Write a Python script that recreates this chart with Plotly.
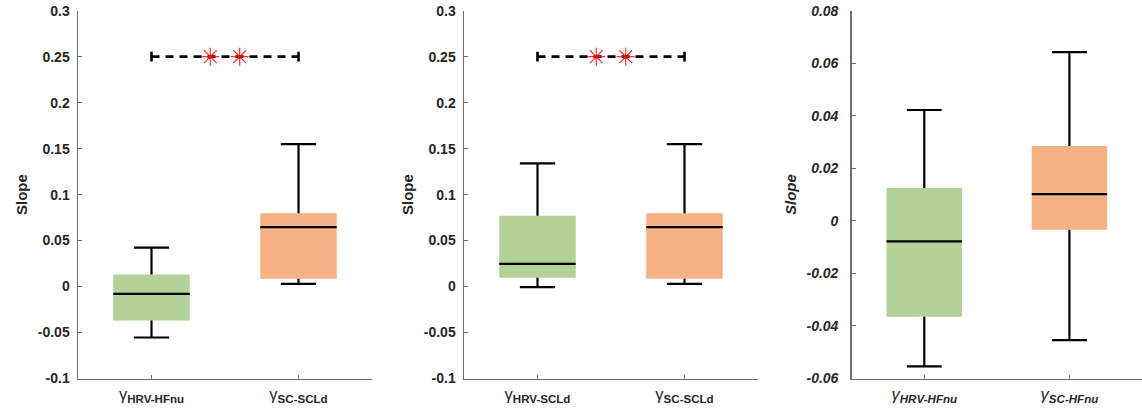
import plotly.graph_objects as go

# ---- data ----
p1_labels = ["γ<sub><b>HRV-HFnu</b></sub>", "γ<sub><b>SC-SCLd</b></sub>"]
p1_low = [-0.0554, 0.0029]
p1_q1 = [-0.037, 0.0084]
p1_med = [-0.008, 0.0646]
p1_q3 = [0.013, 0.0798]
p1_high = [0.0424, 0.1548]

p2_labels = ["γ<sub><b>HRV-SCLd</b></sub>", "γ<sub><b>SC-SCLd</b></sub>"]
p2_low = [-0.0007, 0.0029]
p2_q1 = [0.0095, 0.0084]
p2_med = [0.0247, 0.0646]
p2_q3 = [0.077, 0.0798]
p2_high = [0.134, 0.1548]

p3_labels = ["<i>γ</i><sub><b><i>HRV-HFnu</i></b></sub>", "<i>γ</i><sub><b><i>SC-HFnu</i></b></sub>"]
p3_low = [-0.0554, -0.0454]
p3_q1 = [-0.0365, -0.0034]
p3_med = [-0.0078, 0.0102]
p3_q3 = [0.0125, 0.0285]
p3_high = [0.0422, 0.0642]

sig_y = 0.25
sig_stars = [1.4, 1.6]

y12_ticks = [-0.1, -0.05, 0, 0.05, 0.1, 0.15, 0.2, 0.25, 0.3]
y12_text = ["-0.1", "-0.05", "0", "0.05", "0.1", "0.15", "0.2", "0.25", "0.3"]
y3_ticks = [-0.06, -0.04, -0.02, 0, 0.02, 0.04, 0.06, 0.08]
y3_text = ["-0.06", "-0.04", "-0.02", "0", "0.02", "0.04", "0.06", "0.08"]

colors = ["#B2D297", "#F5B183"]
cats = [1, 2]

BOX_HW = 0.26
CAP_HW = 0.12
W = 1142
H = 416

fig = go.Figure()


def add_panel(idx, low, q1, med, q3, high):
    xa = "x" if idx == 1 else f"x{idx}"
    ya = "y" if idx == 1 else f"y{idx}"
    fig.add_trace(go.Bar(x=cats, y=[b - a for a, b in zip(q1, q3)], base=q1,
                         width=BOX_HW * 2, marker=dict(color=colors, line=dict(width=0)),
                         xaxis=xa, yaxis=ya, showlegend=False))
    wx, wy = [], []
    for c, lo, a, b, hi in zip(cats, low, q1, q3, high):
        wx += [c, c, None, c, c, None, c - CAP_HW, c + CAP_HW, None, c - CAP_HW, c + CAP_HW, None]
        wy += [b, hi, None, a, lo, None, hi, hi, None, lo, lo, None]
    fig.add_trace(go.Scatter(x=wx, y=wy, mode="lines", line=dict(color="black", width=2.2),
                             xaxis=xa, yaxis=ya, showlegend=False, connectgaps=False))
    mx, my = [], []
    for c, m in zip(cats, med):
        mx += [c - BOX_HW, c + BOX_HW, None]
        my += [m, m, None]
    fig.add_trace(go.Scatter(x=mx, y=my, mode="lines", line=dict(color="black", width=2.2),
                             xaxis=xa, yaxis=ya, showlegend=False))


def add_sig(idx):
    xa = "x" if idx == 1 else f"x{idx}"
    ya = "y" if idx == 1 else f"y{idx}"
    fig.add_trace(go.Scatter(x=cats, y=[sig_y, sig_y], mode="lines+markers",
                             line=dict(color="black", width=2.6, dash="8px,6px"),
                             marker=dict(symbol="line-ns-open", size=7, color="black",
                                         line=dict(color="black", width=2.6)),
                             xaxis=xa, yaxis=ya, showlegend=False))
    fig.add_trace(go.Scatter(x=sig_stars, y=[sig_y] * len(sig_stars), mode="markers",
                             marker=dict(symbol="asterisk-open", size=15, color="rgba(255,0,0,0.8)",
                                         line=dict(color="rgba(255,0,0,0.8)", width=1.2)),
                             xaxis=xa, yaxis=ya, showlegend=False))
    fig.add_trace(go.Scatter(x=sig_stars, y=[sig_y] * len(sig_stars), mode="markers",
                             marker=dict(symbol="circle", size=4, color="red"),
                             xaxis=xa, yaxis=ya, showlegend=False))


add_panel(1, p1_low, p1_q1, p1_med, p1_q3, p1_high)
add_panel(2, p2_low, p2_q1, p2_med, p2_q3, p2_high)
add_panel(3, p3_low, p3_q1, p3_med, p3_q3, p3_high)
add_sig(1)
add_sig(2)

FONT = "Liberation Sans, Arial, Helvetica, sans-serif"
AX = "#6e6e6e"
TXT = "#262626"
ydom = [1 - 378.5 / H, 1 - 10.7 / H]

xdoms = [[78 / W, 372 / W], [464 / W, 758 / W], [851.7 / W, 1.0]]
labels = [p1_labels, p2_labels, p3_labels]

layout = dict(width=W, height=H, margin=dict(l=0, r=0, t=0, b=0),
              paper_bgcolor="white", plot_bgcolor="white", barmode="overlay",
              font=dict(family=FONT, color=TXT), hovermode=False)

for i in range(3):
    n = "" if i == 0 else str(i + 1)
    italic = (i == 2)
    layout["xaxis" + n] = dict(domain=xdoms[i], range=[0.5, 2.5], anchor="y" + n,
                               tickvals=cats, ticktext=labels[i], automargin=False,
                               ticks="inside", ticklen=4, tickcolor=AX, tickwidth=1,
                               showline=True, linecolor=AX, linewidth=1.5,
                               showgrid=False, zeroline=False,
                               tickfont=dict(family=FONT, size=16.5, color=TXT),
                               fixedrange=True)
    layout["yaxis" + n] = dict(domain=ydom, anchor="x" + n, automargin=False,
                               range=[-0.1, 0.3] if i < 2 else [-0.06, 0.08],
                               tickvals=y12_ticks if i < 2 else y3_ticks,
                               ticktext=y12_text if i < 2 else y3_text,
                               ticks="inside", ticklen=4, tickcolor=AX, tickwidth=1,
                               showline=True, linecolor=AX, linewidth=1.5,
                               showgrid=False, zeroline=False,
                               ticklabelstandoff=4 if i < 2 else 9,
                               tickfont=dict(family=FONT, size=14, color=TXT, weight="bold",
                                             style="italic" if italic else "normal"),
                               title=dict(text="Slope", standoff=6,
                                          font=dict(family=FONT, size=15, color=TXT, weight="bold",
                                                    style="italic" if italic else "normal")),
                               fixedrange=True)

fig.update_layout(**layout)
fig.write_html("out.html", config={"displayModeBar": False, "staticPlot": True},
               post_script="document.body.style.margin='0';document.body.style.overflow='hidden';")
